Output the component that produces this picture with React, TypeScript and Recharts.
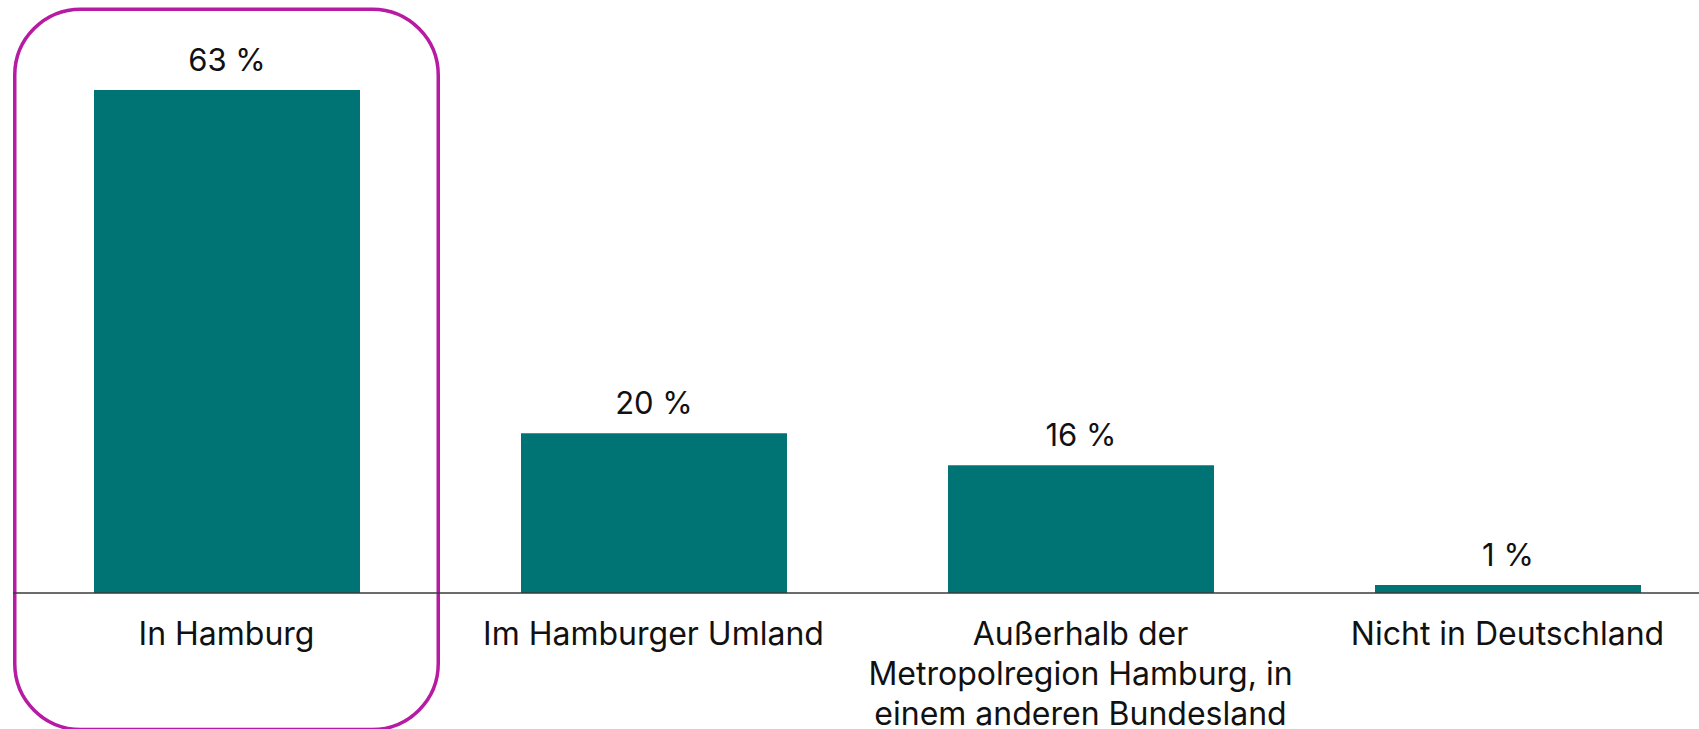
import { BarChart, Bar, XAxis, YAxis, LabelList, ReferenceArea } from "recharts";

// Where the respondents live (share in %)
const categories = [
  "In Hamburg",
  "Im Hamburger Umland",
  "Außerhalb der\nMetropolregion Hamburg, in\neinem anderen Bundesland",
  "Nicht in Deutschland",
];
const shares = [63, 20, 16, 1];

// highlighted category and the vertical extent of its frame (in % units)
const highlight = "In Hamburg";
const highlightTop = 73.1;
const highlightBottom = -17.1;

const data = categories.map((name, i) => ({ name, share: shares[i] }));

const FONT = "Inter, 'Noto Sans', sans-serif";

function CategoryTick(props: any) {
  const { x, y, payload } = props;
  const lines = String(payload.value).split("\n");
  return (
    <text x={x} y={y} textAnchor="middle" fill="#111" fontSize={32} fontFamily={FONT}>
      {lines.map((line, i) => (
        <tspan key={i} x={x} dy={i === 0 ? 52 : 40}>
          {line}
        </tspan>
      ))}
    </text>
  );
}

function Frame(props: any) {
  const { x, y, width, height } = props;
  return (
    <rect
      x={x + 1.75}
      y={y}
      width={width - 3.5}
      height={height}
      rx={66}
      ry={66}
      fill="none"
      stroke="#B71AA3"
      strokeWidth={3.5}
    />
  );
}

export default function App() {
  return (
    <div
      style={{
        position: "fixed",
        left: 0,
        top: 0,
        width: 1699,
        height: 729,
        overflow: "hidden",
        background: "#fff",
      }}
    >
      <BarChart
        width={1721}
        height={743}
        data={data}
        margin={{ top: 34, right: 0, left: 13, bottom: 0 }}
        barSize={266}
      >
        <XAxis
          dataKey="name"
          height={150}
          interval={0}
          tickLine={false}
          tickSize={0}
          tickMargin={0}
          axisLine={{ stroke: "#3a3a3a", strokeWidth: 1.5 }}
          tick={<CategoryTick />}
        />
        <YAxis hide domain={[0, 70]} />
        <Bar dataKey="share" fill="#007474" isAnimationActive={false}>
          <LabelList
            dataKey="share"
            position="top"
            offset={19}
            formatter={(v: any) => `${v} %`}
            fill="#111"
            fontSize={31}
            fontFamily={FONT}
          />
        </Bar>
        <ReferenceArea
          x1={highlight}
          x2={highlight}
          y1={highlightBottom}
          y2={highlightTop}
          ifOverflow="visible"
          shape={<Frame />}
        />
      </BarChart>
    </div>
  );
}
